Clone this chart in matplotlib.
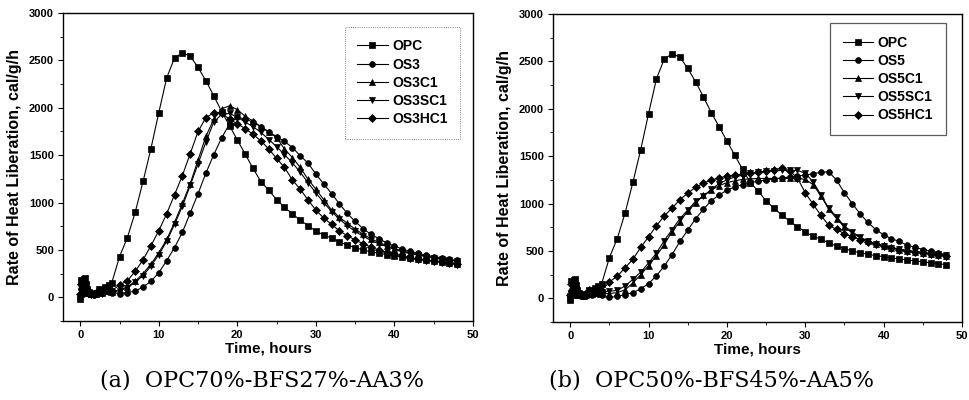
import matplotlib
matplotlib.use("Agg")
import matplotlib.pyplot as plt
from matplotlib.ticker import MultipleLocator

# ---------------- data ----------------
TIME = [0, 0.15, 0.3, 0.45, 0.6, 0.75, 0.9, 1.1, 1.4, 1.7, 2.0, 2.4, 2.8, 3.2, 3.6, 4.0,
        5, 6, 7, 8, 9, 10, 11, 12, 13, 14, 15, 16, 17, 18, 19, 20, 21, 22, 23, 24,
        25, 26, 27, 28, 29, 30, 31, 32, 33, 34, 35, 36, 37, 38, 39, 40, 41, 42, 43, 44,
        45, 46, 47, 48]

OPC = [-20, 180, 60, 190, 200, 140, 90, 60, 40, 30, 50, 90, 60, 110, 130, 150,
       430, 630, 900, 1225, 1570, 1950, 2315, 2525, 2580, 2545, 2425, 2285, 2125, 1960,
       1810, 1660, 1510, 1360, 1220, 1130, 1030, 950, 880, 815, 755, 700, 655, 625,
       585, 550, 525, 500, 480, 465, 450, 440, 425, 415, 405, 395, 385, 375, 365, 355]

# panel (a)
OS3 = [20, 90, 40, 120, 100, 70, 50, 40, 30, 25, 35, 60, 45, 70, 60, 50,
       40, 50, 66, 109, 169, 260, 387, 525, 686, 890, 1095, 1312, 1506, 1682,
       1830, 1900, 1880, 1850, 1800, 1745, 1695, 1645, 1580, 1495, 1415, 1300, 1195, 1095,
       985, 885, 800, 725, 665, 620, 575, 540, 510, 485, 465, 445, 430, 415, 400, 390]
OS3C1 = [10, 120, 50, 150, 130, 90, 60, 45, 35, 30, 40, 70, 50, 80, 70, 60,
         80, 110, 170, 250, 350, 470, 610, 790, 990, 1200, 1450, 1700, 1880, 1990,
         2020, 1980, 1910, 1860, 1800, 1745, 1685, 1565, 1475, 1370, 1245, 1140, 1030, 920,
         845, 780, 720, 665, 620, 580, 545, 515, 490, 470, 450, 435, 420, 405, 395, 385]
OS3SC1 = [0, 100, 30, 130, 110, 80, 50, 40, 30, 25, 35, 55, 40, 70, 65, 55,
          70, 100, 160, 230, 330, 450, 590, 770, 960, 1180, 1410, 1640, 1850, 1930,
          1940, 1900, 1850, 1800, 1740, 1665, 1590, 1505, 1420, 1320, 1210, 1100, 1000, 905,
          825, 755, 695, 645, 600, 565, 535, 505, 480, 460, 445, 430, 415, 400, 390, 380]
OS3HC1 = [30, 140, 70, 160, 150, 100, 70, 50, 40, 35, 45, 80, 60, 90, 80, 70,
          130, 175, 275, 397, 545, 703, 882, 1082, 1285, 1517, 1750, 1897, 1946, 1940,
          1880, 1830, 1780, 1720, 1650, 1565, 1465, 1370, 1240, 1140, 1027, 920, 836, 770,
          700, 650, 605, 565, 530, 500, 475, 455, 435, 420, 405, 395, 385, 375, 365, 355]

# panel (b)
OS5 = [10, 80, 30, 110, 90, 60, 40, 30, 25, 20, 30, 50, 40, 60, 50, 40,
       10, 20, 40, 60, 100, 155, 238, 340, 462, 600, 720, 840, 940, 1030,
       1090, 1140, 1175, 1200, 1220, 1235, 1250, 1260, 1270, 1280, 1290, 1300, 1315, 1330,
       1334, 1246, 1112, 1000, 890, 800, 724, 670, 628, 600, 560, 540, 515, 495, 480, 460]
OS5C1 = [0, 110, 40, 140, 120, 80, 55, 40, 30, 25, 35, 60, 45, 70, 60, 50,
         50, 60, 90, 162, 250, 345, 450, 567, 704, 810, 919, 1007, 1085, 1140,
         1190, 1220, 1240, 1255, 1260, 1265, 1265, 1265, 1265, 1265, 1265, 1255, 1200, 1080,
         940, 840, 750, 690, 640, 600, 570, 550, 530, 515, 500, 490, 480, 470, 460, 450]
OS5SC1 = [20, 130, 60, 160, 140, 100, 65, 45, 35, 30, 40, 75, 55, 85, 75, 65,
          74, 84, 130, 200, 278, 372, 478, 609, 725, 841, 932, 1024, 1077, 1150,
          1210, 1250, 1280, 1300, 1320, 1330, 1340, 1345, 1350, 1350, 1350, 1320, 1230, 1090,
          950, 860, 760, 700, 645, 605, 575, 555, 535, 520, 505, 495, 485, 475, 465, 455]
OS5HC1 = [30, 150, 70, 170, 160, 110, 75, 50, 40, 35, 45, 85, 65, 95, 90, 80,
          173, 233, 321, 413, 537, 650, 766, 869, 953, 1041, 1109, 1172, 1215, 1248,
          1270, 1290, 1300, 1310, 1320, 1330, 1340, 1355, 1370, 1345, 1270, 1112, 992, 875,
          770, 727, 681, 650, 620, 595, 570, 550, 530, 515, 500, 490, 480, 470, 460, 450]

LABELS_A = ["OPC", "OS3", "OS3C1", "OS3SC1", "OS3HC1"]
LABELS_B = ["OPC", "OS5", "OS5C1", "OS5SC1", "OS5HC1"]
CAPTIONS = ["(a)  OPC70%-BFS27%-AA3%", "(b)  OPC50%-BFS45%-AA5%"]
MARKERS = ["s", "o", "^", "v", "D"]

# ---------------- figure ----------------
fig = plt.figure(figsize=(9.7, 4.0), dpi=100)
fig.patch.set_facecolor("white")

boxes = [
    [63 / 970, 1 - 321 / 400, 410 / 970, 308 / 400],
    [553 / 970, 1 - 322 / 400, 409 / 970, 308 / 400],
]
series_sets = [
    [OPC, OS3, OS3C1, OS3SC1, OS3HC1],
    [OPC, OS5, OS5C1, OS5SC1, OS5HC1],
]
label_sets = [LABELS_A, LABELS_B]
legend_anchor = [(0.968, 0.955), (0.960, 0.970)]
caption_x = [262 / 970, 712 / 970]

bold_font = dict(family="Liberation Sans", weight="bold")

for i in range(2):
    ax = fig.add_axes(boxes[i])
    for vals, lab, mk in zip(series_sets[i], label_sets[i], MARKERS):
        ms = 4.2 if mk != "D" else 3.6
        ax.plot(TIME, vals, color="black", lw=0.8, marker=mk, ms=ms,
                markeredgewidth=0.5, label=lab)
    ax.set_xlim(-2.2, 50)
    ax.set_ylim(-250, 3000)
    ax.xaxis.set_major_locator(MultipleLocator(10))
    ax.xaxis.set_minor_locator(MultipleLocator(5))
    ax.yaxis.set_major_locator(MultipleLocator(500))
    ax.yaxis.set_minor_locator(MultipleLocator(250))
    ax.tick_params(which="major", direction="out", length=3.5, width=0.8,
                   labelsize=8, pad=3)
    ax.tick_params(which="minor", direction="out", length=2, width=0.6)
    for lbl in ax.get_xticklabels() + ax.get_yticklabels():
        lbl.set_fontfamily("Liberation Sans")
        lbl.set_fontweight("bold")
    for sp in ax.spines.values():
        sp.set_linewidth(1.0)
    ax.set_xlabel("Time, hours", fontsize=11, labelpad=1, **bold_font)
    ax.set_ylabel("Rate of Heat Liberation, cal/g/h", fontsize=11.5, labelpad=5, **bold_font)
    leg = ax.legend(loc="upper right", bbox_to_anchor=legend_anchor[i],
                    prop=dict(family="Liberation Sans", weight="bold", size=10),
                    frameon=True, fancybox=False, edgecolor="#333333",
                    handlelength=2.2, handletextpad=0.3, labelspacing=0.3,
                    borderpad=0.9, borderaxespad=0)
    leg.get_frame().set_linewidth(0.9 if i == 1 else 0.6)
    if i == 0:
        leg.get_frame().set_linestyle(":")
    fig.text(caption_x[i], 1 - 380 / 400, CAPTIONS[i],
             ha="center", va="center", fontsize=16, family="DejaVu Serif")

fig.savefig("out.png", dpi=100, facecolor="white")
